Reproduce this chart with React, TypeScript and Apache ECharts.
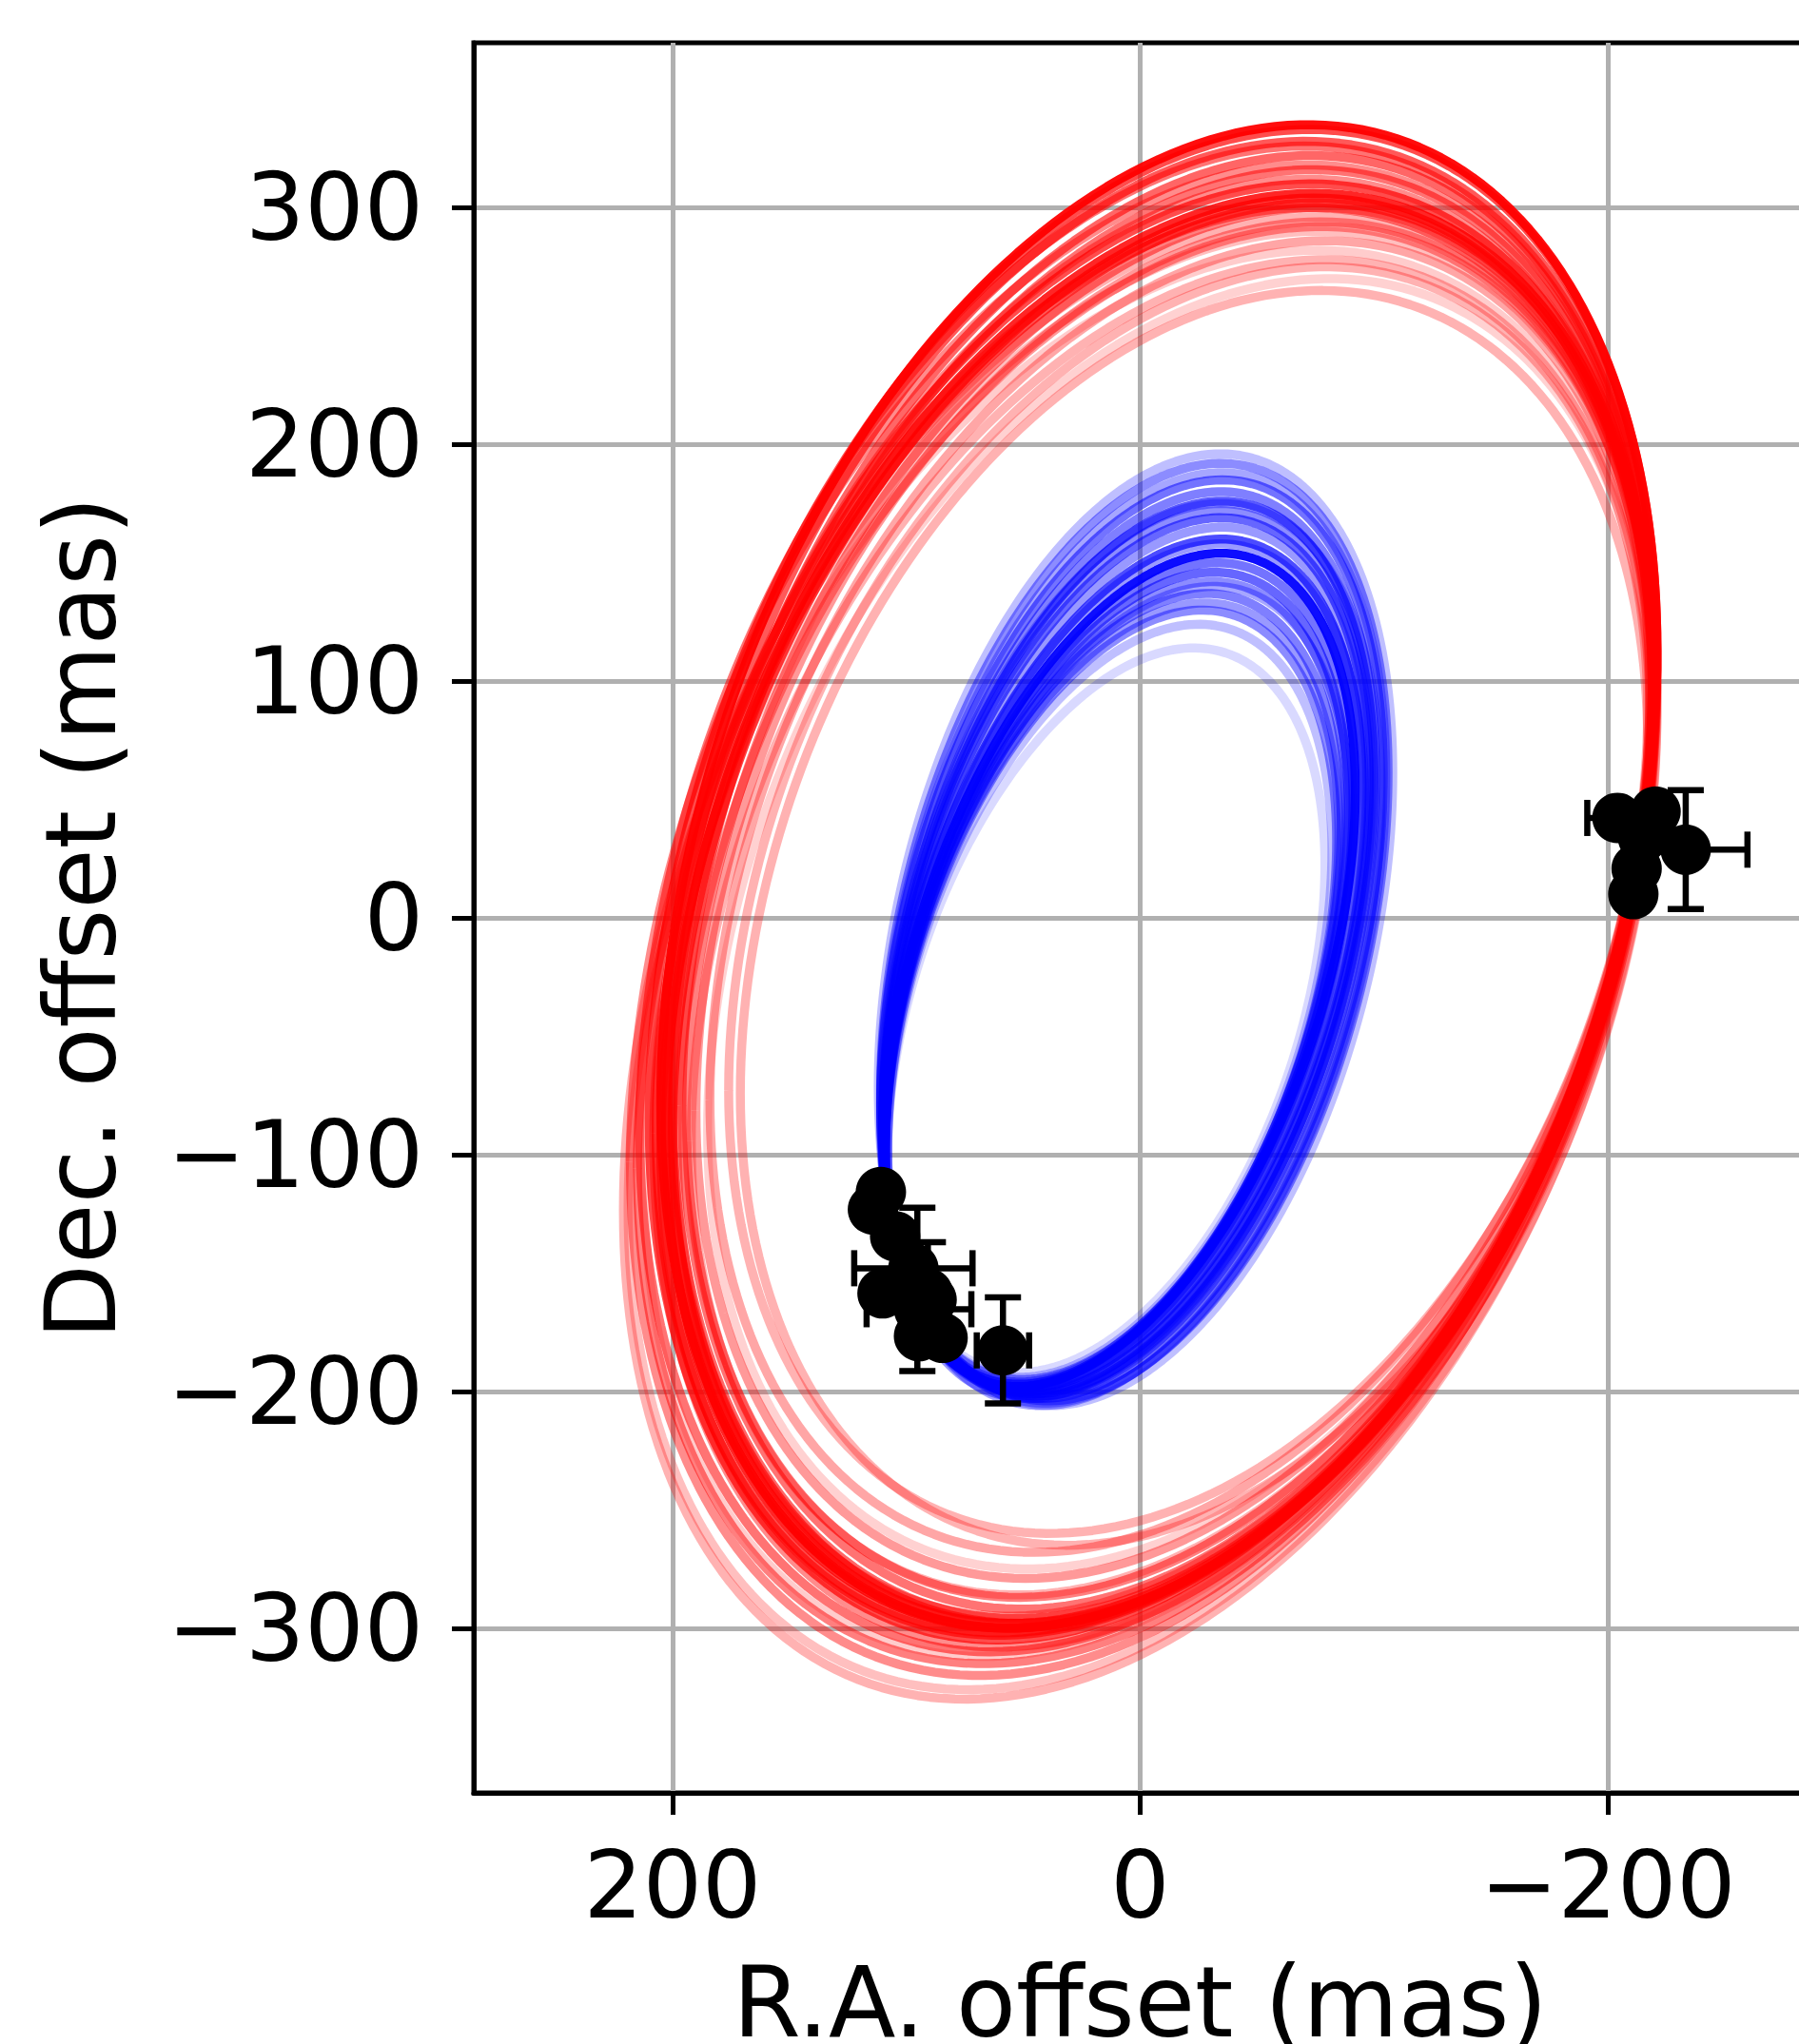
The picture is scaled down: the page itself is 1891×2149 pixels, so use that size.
import React, { useEffect, useRef } from 'react';
import * as echarts from 'echarts';

// Axis ticks
const xTicks = [200, 0, -200];
const yTicks = [-300, -200, -100, 0, 100, 200, 300];

// Outer (red) orbit samples: extents in mas
const redTop = [335, 333, 326, 322, 318, 316, 312, 306, 304, 302, 300, 296, 294, 290, 286, 282, 278, 275, 270, 265, 300, 310, 328, 292];
const redBottom = [-300, -305, -310, -296, -320, -292, -308, -300, -298, -303, -287, -330, -279, -326, -268, -312, -286, -260, -275, -265, -315, -302, -298, -295];
const redLeft = [205, 210, 214, 200, 218, 196, 208, 203, 200, 205, 194, 221, 190, 219, 184, 212, 192, 176, 185, 171, 215, 207, 202, 198];
const redRight = [-221, -221, -220, -220, -221, -219, -220, -220, -219, -220, -219, -221, -218, -221, -218, -220, -218, -217, -218, -217, -220, -220, -221, -219];
const redSkew = [-0.30, -0.31, -0.31, -0.30, -0.32, -0.30, -0.31, -0.31, -0.31, -0.32, -0.31, -0.34, -0.31, -0.34, -0.31, -0.33, -0.32, -0.30, -0.32, -0.28, -0.32, -0.31, -0.29, -0.32];
const redAlpha = [0.95, 0.7, 0.55, 0.6, 0.45, 0.55, 0.45, 0.85, 0.75, 0.65, 0.5, 0.3, 0.4, 0.25, 0.35, 0.2, 0.3, 0.3, 0.18, 0.3, 0.5, 0.7, 0.65, 0.4];

// Inner (blue) orbit samples
const blueTop = [196, 192, 188, 185, 180, 176, 172, 169, 165, 160, 154, 150, 146, 142, 137, 133, 130, 124, 114, 175, 158, 140];
const blueBottom = [-206, -204, -205, -203, -202, -201, -202, -200, -201, -199, -198, -199, -197, -198, -196, -197, -195, -194, -192, -206, -203, -200];
const blueLeft = [112, 111, 111, 111, 110, 110, 110, 110, 110, 110, 110, 109, 109, 109, 109, 109, 108, 108, 108, 111, 110, 109];
const blueRight = [-108, -106, -105, -104, -101, -100, -99, -98, -97, -95, -92, -91, -89, -88, -86, -85, -84, -82, -79, -103, -96, -90];
const blueSkew = [-0.33, -0.34, -0.35, -0.36, -0.37, -0.38, -0.38, -0.39, -0.40, -0.41, -0.43, -0.42, -0.42, -0.42, -0.41, -0.41, -0.40, -0.40, -0.40, -0.36, -0.40, -0.41];
const blueAlpha = [0.25, 0.45, 0.35, 0.55, 0.5, 0.65, 0.45, 0.6, 0.4, 0.7, 0.95, 0.55, 0.6, 0.45, 0.5, 0.4, 0.45, 0.25, 0.15, 0.35, 0.4, 0.35];

// Astrometric measurements (mas)
const ptX = [-204.1, -220.4, -233.3, -215.0, -212.3, -210.9, 110.9, 114.3, 104.8, 110.2, 97.0, 89.2, 94.6, 84.5, 95.3, 94.6, 90.8, 58.7];
const ptY = [42.2, 44.9, 28.8, 34.0, 20.8, 10.0, -115.8, -123.2, -134.5, -158.6, -148.0, -161.3, -176.7, -177.4, -156.9, -165.3, -158.6, -182.7];
const ptXErr = [12.9, 0, 26.4, 0, 0, 0, 0, 0, 0, 0, 25.3, 0, 0, 0, 0, 22.4, 0, 11.2];
const ptYErr = [0, 0, 25.1, 0, 0, 0, 0, 0, 0, 0, 0, 0, 0, 0, 34.5, 0, 21.6, 22.4];

const FONT = 'DejaVu Sans';
const fmt = (v: number) => (v < 0 ? '\u2212' + Math.abs(v) : String(v));

function orbitSeries(top: number[], bottom: number[], left: number[], right: number[], skew: number[], alpha: number[], rgb: string) {
  const data = top.map((t, i) => [top[i], bottom[i], left[i], right[i], skew[i], alpha[i]]);
  return {
    type: 'custom',
    coordinateSystem: 'cartesian2d',
    silent: true,
    clip: true,
    data,
    encode: { x: 2, y: 0 },
    renderItem: (params: any, api: any) => {
      const yT = api.value(0), yB = api.value(1), xL = api.value(2), xR = api.value(3), sk = api.value(4), a = api.value(5);
      const cx = (xL + xR) / 2, W = (xL - xR) / 2, cy = (yT + yB) / 2, H = (yT - yB) / 2;
      const phi = Math.acos(sk);
      const pts: number[][] = [];
      const N = 240;
      for (let k = 0; k <= N; k++) {
        const t = (k / N) * 2 * Math.PI;
        pts.push(api.coord([cx + W * Math.cos(t), cy + H * Math.cos(t - phi)]));
      }
      return {
        type: 'polyline',
        shape: { points: pts },
        style: { stroke: `rgba(${rgb},${a})`, lineWidth: 9.5, fill: 'none', lineJoin: 'round' },
      };
    },
  };
}

export default function App() {
  const ref = useRef<HTMLDivElement>(null);
  useEffect(() => {
    const chart = echarts.init(ref.current!, null, { renderer: 'svg' });
    const errData = ptX.map((x, i) => [x, ptY[i], ptXErr[i], ptYErr[i]]);
    const option: any = {
      animation: false,
      backgroundColor: '#ffffff',
      grid: {
        left: 498, top: 45, right: -8, bottom: 264,
        show: true, borderColor: '#000', borderWidth: 5, backgroundColor: 'transparent',
        containLabel: false, outerBoundsMode: 'none',
      },
      xAxis: {
        type: 'value', inverse: true, min: -285, max: 285,
        name: 'R.A. offset (mas)', nameLocation: 'middle', nameGap: 168,
        nameTextStyle: { fontFamily: FONT, fontSize: 103, color: '#000' },
        axisLine: { show: true, onZero: false, lineStyle: { color: '#000', width: 5 } },
        axisTick: { show: true, length: 23, lineStyle: { color: '#000', width: 5 }, customValues: xTicks },
        axisLabel: { customValues: xTicks, formatter: fmt, fontFamily: FONT, fontSize: 98, color: '#000', margin: 48 },
        splitLine: { show: true, lineStyle: { color: '#b0b0b0', width: 5 } },
      },
      yAxis: {
        type: 'value', min: -369.6, max: 369.6,
        name: 'Dec. offset (mas)', nameLocation: 'middle', nameGap: 362, nameRotate: 90,
        nameTextStyle: { fontFamily: FONT, fontSize: 103, color: '#000' },
        axisLine: { show: true, onZero: false, lineStyle: { color: '#000', width: 5 } },
        axisTick: { show: true, length: 23, lineStyle: { color: '#000', width: 5 }, customValues: yTicks },
        axisLabel: { customValues: yTicks, formatter: fmt, fontFamily: FONT, fontSize: 98, color: '#000', margin: 53 },
        splitLine: { show: true, lineStyle: { color: '#b0b0b0', width: 5 } },
      },
      series: [
        orbitSeries(redTop, redBottom, redLeft, redRight, redSkew, redAlpha, '255,0,0'),
        orbitSeries(blueTop, blueBottom, blueLeft, blueRight, blueSkew, blueAlpha, '0,0,255'),
        {
          type: 'custom',
          coordinateSystem: 'cartesian2d',
          silent: true,
          data: errData,
          encode: { x: 0, y: 1 },
          renderItem: (params: any, api: any) => {
            const x = api.value(0), y = api.value(1), xe = api.value(2), ye = api.value(3);
            const cap = 19;
            const st = { stroke: '#000', lineWidth: 6.5 };
            const ch: any[] = [];
            if (xe > 0) {
              const a = api.coord([x - xe, y]), b = api.coord([x + xe, y]);
              ch.push({ type: 'line', shape: { x1: a[0], y1: a[1], x2: b[0], y2: b[1] }, style: st });
              ch.push({ type: 'line', shape: { x1: a[0], y1: a[1] - cap, x2: a[0], y2: a[1] + cap }, style: st });
              ch.push({ type: 'line', shape: { x1: b[0], y1: b[1] - cap, x2: b[0], y2: b[1] + cap }, style: st });
            }
            if (ye > 0) {
              const a = api.coord([x, y - ye]), b = api.coord([x, y + ye]);
              ch.push({ type: 'line', shape: { x1: a[0], y1: a[1], x2: b[0], y2: b[1] }, style: st });
              ch.push({ type: 'line', shape: { x1: a[0] - cap, y1: a[1], x2: a[0] + cap, y2: a[1] }, style: st });
              ch.push({ type: 'line', shape: { x1: b[0] - cap, y1: b[1], x2: b[0] + cap, y2: b[1] }, style: st });
            }
            return { type: 'group', children: ch };
          },
        },
        {
          type: 'scatter',
          silent: true,
          symbol: 'circle',
          symbolSize: 53,
          itemStyle: { color: '#000', opacity: 1 },
          data: ptX.map((x, i) => [x, ptY[i]]),
        },
      ],
    };
    chart.setOption(option);
    return () => chart.dispose();
  }, []);
  return <div ref={ref} style={{ position: 'absolute', left: 0, top: 0, width: 1891, height: 2149, background: '#fff' }} />;
}
